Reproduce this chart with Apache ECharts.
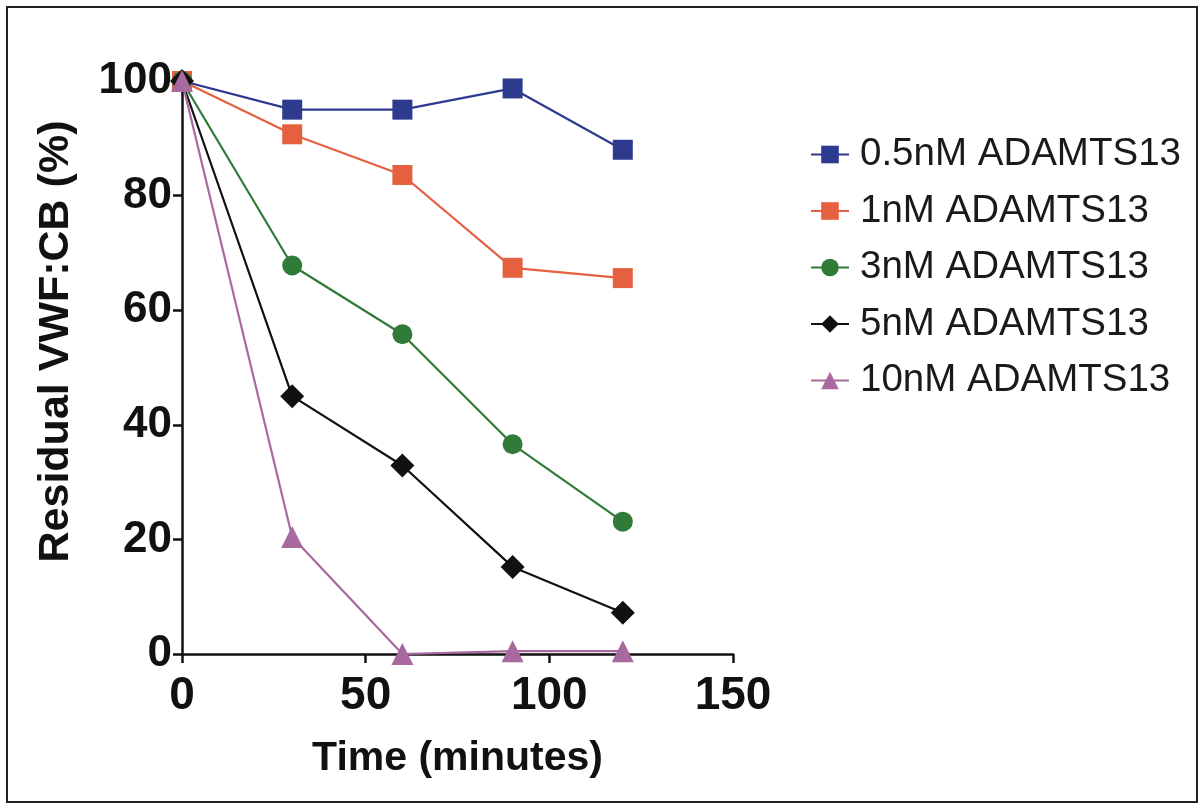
<!DOCTYPE html>
<html>
<head>
<meta charset="utf-8">
<script src="https://cdn.jsdelivr.net/npm/echarts@6/dist/echarts.min.js"></script>
<style>
  html, body { margin: 0; padding: 0; background: #fff; }
  #chart { width: 1199px; height: 805px; }
</style>
</head>
<body>
<div id="chart"></div>
<script>
// time points (minutes)
var times = [0, 30, 60, 90, 120];

// residual VWF:CB (%) per ADAMTS13 concentration
var seriesNames = ['0.5nM ADAMTS13', '1nM ADAMTS13', '3nM ADAMTS13', '5nM ADAMTS13', '10nM ADAMTS13'];
var v05 = [100, 95, 95, 98.7, 88];
var v1 = [100, 90.7, 83.6, 67.4, 65.6];
var v3 = [100, 67.8, 55.8, 36.6, 23.1];
var v5 = [100, 45, 32.9, 15.2, 7.2];
var v10 = [100, 20.4, 0, 0.5, 0.5];

var colors = ['#2d3a8e', '#e5603f', '#2f7b37', '#111111', '#a8699e'];
var symbols = ['rect', 'rect', 'circle', 'diamond', 'triangle'];
var sizes = [20, 20, 20, 24, 22];

var font = 'Liberation Sans, Arial, Helvetica, sans-serif';

function pairs(vals) {
  return times.map(function (t, i) { return [t, vals[i]]; });
}

var chart = echarts.init(document.getElementById('chart'));
var allVals = [v05, v1, v3, v5, v10];

chart.setOption({
  animation: false,
  backgroundColor: '#fff',
  grid: { left: 182, top: 81, right: 466, bottom: 151, containLabel: false },
  legend: {
    orient: 'vertical',
    left: 805,
    top: 130,
    itemWidth: 38,
    itemHeight: 22,
    itemGap: 17.5,
    textStyle: { fontFamily: font, fontSize: 38.5, color: '#1a1a1a', padding: [0, 0, 0, 6] },
    data: seriesNames
  },
  xAxis: {
    type: 'value',
    min: 0, max: 150, interval: 50,
    name: 'Time (minutes)',
    nameLocation: 'middle',
    nameGap: 84,
    nameTextStyle: { fontFamily: font, fontSize: 41, fontWeight: 'bold', color: '#111' },
    axisLine: { onZero: false, lineStyle: { color: '#111', width: 2.5 } },
    axisTick: { show: true, length: 9, lineStyle: { color: '#111', width: 2.5 } },
    axisLabel: { margin: 19, fontFamily: font, fontSize: 46, fontWeight: 'bold', color: '#111' },
    splitLine: { show: false }
  },
  yAxis: {
    type: 'value',
    min: 0, max: 100, interval: 20,
    name: 'Residual VWF:CB (%)',
    nameLocation: 'middle',
    nameGap: 104,
    nameTextStyle: { fontFamily: font, fontSize: 43, fontWeight: 'bold', color: '#111', padding: [0, 0, 0, 52] },
    axisLine: { show: true, onZero: false, lineStyle: { color: '#111', width: 2.5 } },
    axisTick: { show: true, length: 9, lineStyle: { color: '#111', width: 2.5 } },
    axisLabel: { margin: 10, fontFamily: font, fontSize: 44, fontWeight: 'bold', color: '#111' },
    splitLine: { show: false }
  },
  graphic: [{
    type: 'rect',
    shape: { x: 7, y: 7, width: 1190, height: 795 },
    style: { fill: 'none', stroke: '#222', lineWidth: 2 },
    silent: true
  }],
  series: seriesNames.map(function (name, i) {
    return {
      name: name,
      type: 'line',
      data: pairs(allVals[i]),
      symbol: symbols[i],
      symbolSize: sizes[i],
      showAllSymbol: true,
      color: colors[i],
      lineStyle: { color: colors[i], width: 2.2 },
      itemStyle: { color: colors[i], opacity: 1 },
      z: 2 + i
    };
  })
});
</script>
</body>
</html>
